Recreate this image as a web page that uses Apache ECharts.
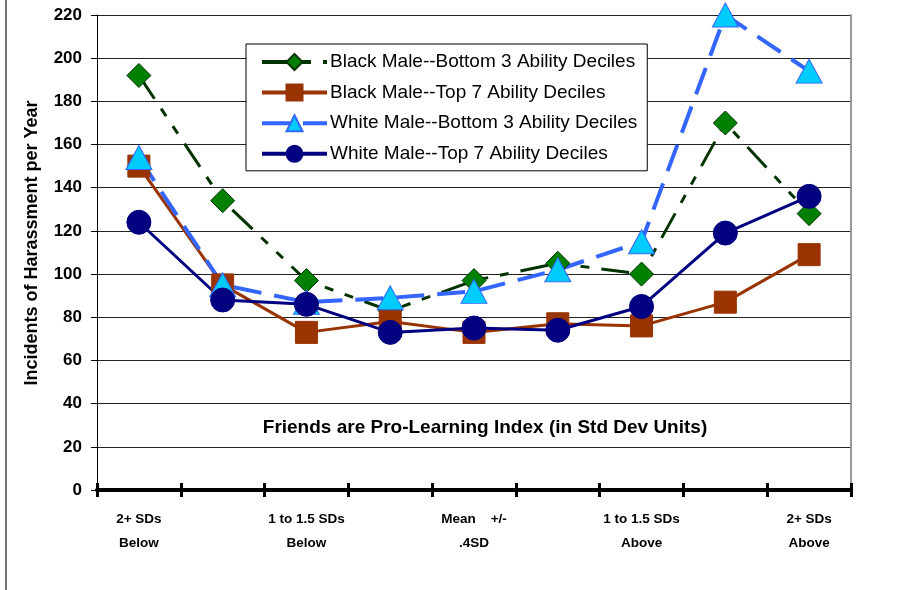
<!DOCTYPE html>
<html>
<head>
<meta charset="utf-8">
<script src="https://cdn.jsdelivr.net/npm/echarts@6/dist/echarts.min.js"></script>
<style>
html,body{margin:0;padding:0;background:#fff;}
#chart{width:898px;height:590px;}
</style>
</head>
<body>
<div id="chart"></div>
<script>
const categories = ['2+ SDs\nBelow', '', '1 to 1.5 SDs\nBelow', '', 'Mean    +/-\n.4SD', '', '1 to 1.5 SDs\nAbove', '', '2+ SDs\nAbove'];
const blackBottom3 = [192, 134, 97, 83, 97, 105, 100, 170, 128];
const blackTop7 = [150, 95, 73, 78, 73, 77, 76, 87, 109];
const whiteBottom3 = [154, 95, 87, 89, 92, 102, 115, 220, 194];
const whiteTop7 = [124, 88, 86, 73, 75, 74, 85, 119, 136];
const yTicks = {min: 0, max: 220, interval: 20};
const seriesNames = ['Black Male--Bottom 3 Ability Deciles', 'Black Male--Top 7 Ability Deciles', 'White Male--Bottom 3 Ability Deciles', 'White Male--Top 7 Ability Deciles'];
const xTitle = 'Friends are Pro-Learning Index (in Std Dev Units)';
const yTitle = 'Incidents of Harassment per Year';

const FONT = '"Liberation Sans", Arial, sans-serif';
const chart = echarts.init(document.getElementById('chart'));
chart.setOption({
  animation: false,
  backgroundColor: '#fff',
  grid: {left: 97, right: 47, top: 15, bottom: 100, containLabel: false},
  legend: {
    left: 246, top: 44, orient: 'vertical',
    backgroundColor: '#fff', borderColor: '#000', borderWidth: 1,
    padding: [8, 10, 7, 14],
    itemWidth: 65, itemHeight: 20, itemGap: 10.6,
    lineStyle: {width: 4},
    textStyle: {fontFamily: FONT, fontSize: 19, color: '#000', lineHeight: 20, padding: [0, 0, 0, -2]},
    data: seriesNames
  },
  xAxis: [{
    type: 'category', data: categories, position: 'bottom', boundaryGap: true,
    axisLine: {lineStyle: {color: '#000', width: 4}},
    axisTick: {show: true, interval: 0, length: 7, lineStyle: {color: '#000', width: 3}},
    axisLabel: {interval: 0, margin: 17, fontFamily: FONT, fontWeight: 'bold', fontSize: 13.5, color: '#000', lineHeight: 24},
    splitLine: {show: false}
  }, {
    type: 'category', data: categories, position: 'bottom', boundaryGap: true,
    axisLine: {show: false},
    axisTick: {show: true, inside: true, interval: 0, length: 7, lineStyle: {color: '#000', width: 3}},
    axisLabel: {show: false}, splitLine: {show: false}
  }],
  yAxis: [{
    type: 'value', min: yTicks.min, max: yTicks.max, interval: yTicks.interval,
    axisLine: {show: true, lineStyle: {color: '#000', width: 1}},
    axisTick: {show: true, length: 6, lineStyle: {color: '#000'}},
    axisLabel: {margin: 15, fontFamily: FONT, fontWeight: 'bold', fontSize: 17, color: '#000'},
    splitLine: {show: true, lineStyle: {color: '#222', width: 1}}
  }, {
    type: 'value', min: yTicks.min, max: yTicks.max, interval: yTicks.interval, position: 'right',
    axisLine: {show: true, lineStyle: {color: '#999', width: 2}},
    axisTick: {show: false}, axisLabel: {show: false}, splitLine: {show: false}
  }],
  graphic: [
    {type: 'line', shape: {x1: 6, y1: 0, x2: 6, y2: 590}, style: {stroke: '#444', lineWidth: 1.5}},
    {type: 'text', x: 485, y: 428, style: {text: xTitle, font: 'bold 19px ' + FONT, fill: '#000', align: 'center', verticalAlign: 'middle'}, z: 10},
    {type: 'text', x: 32, y: 243, rotation: Math.PI / 2, style: {text: yTitle, font: 'bold 18px ' + FONT, fill: '#000', align: 'center', verticalAlign: 'middle'}}
  ],
  series: [{
    name: seriesNames[0], type: 'line', data: blackBottom3,
    symbol: 'diamond', symbolSize: 24,
    lineStyle: {color: '#003300', width: 3, type: [28, 12, 9, 12, 9, 12], cap: 'butt'},
    itemStyle: {color: '#008000', borderColor: '#003300', borderWidth: 1}
  }, {
    name: seriesNames[1], type: 'line', data: blackTop7,
    symbol: 'rect', symbolSize: 22,
    lineStyle: {color: '#993300', width: 3},
    itemStyle: {color: '#993300', borderColor: '#993300', borderWidth: 1}
  }, {
    name: seriesNames[2], type: 'line', data: whiteBottom3,
    symbol: 'triangle', symbolSize: [26, 24],
    lineStyle: {color: '#3366FF', width: 4, type: [28, 13], cap: 'butt'},
    itemStyle: {color: '#00CCFF', borderColor: '#3366FF', borderWidth: 1}
  }, {
    name: seriesNames[3], type: 'line', data: whiteTop7,
    symbol: 'circle', symbolSize: 24,
    lineStyle: {color: '#000080', width: 3},
    itemStyle: {color: '#000080', borderColor: '#000080', borderWidth: 1}
  }]
});
</script>
</body>
</html>
